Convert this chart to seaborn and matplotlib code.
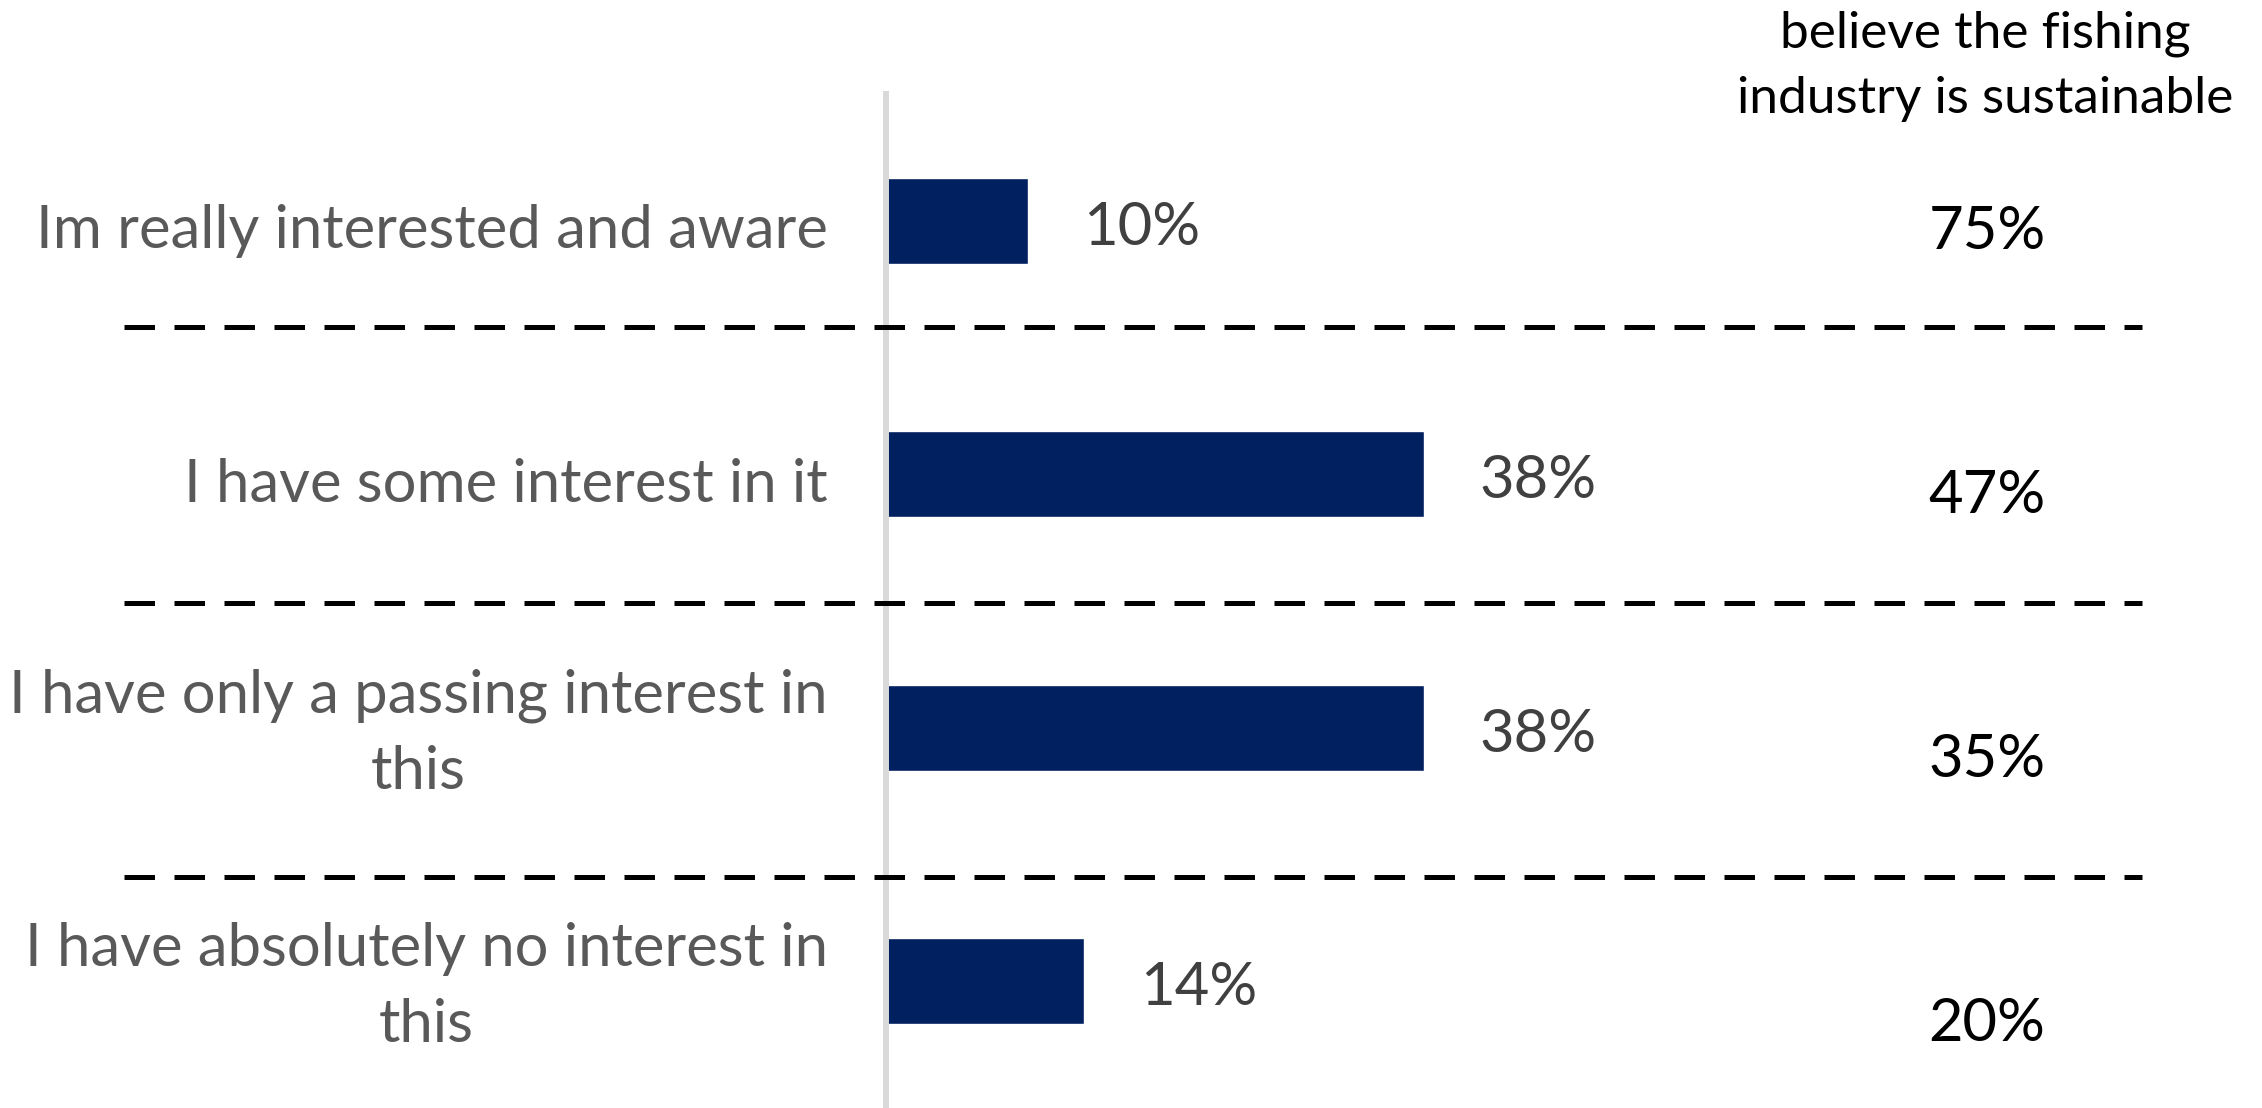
import matplotlib
matplotlib.use("Agg")
import matplotlib.pyplot as plt
from matplotlib.lines import Line2D
from matplotlib.transforms import blended_transform_factory, ScaledTranslation
import seaborn as sns
import pandas as pd

# Survey data
categories = [
    "Im really interested and aware",
    "I have some interest in it",
    "I have only a passing interest in\nthis",
    "I have absolutely no interest in\nthis",
]
interest_share = [10, 38, 38, 14]          # % of respondents
believe_sustainable = [75, 47, 35, 20]     # % who believe the industry is sustainable
column_title = "believe the fishing\nindustry is sustainable"

df = pd.DataFrame({"category": categories, "share": interest_share})

sns.set_theme(style="white")
plt.rcParams["font.family"] = ["Lato", "DejaVu Sans"]

W, H, DPI = 2262, 1108, 100
FS = 43
BAR_COLOR = "#002060"

fig = plt.figure(figsize=(W / DPI, H / DPI), dpi=DPI)
fig.patch.set_facecolor("white")

ax_left, ax_top = 886, 94
rect = [ax_left / W, 0, 1 - ax_left / W, (H - ax_top) / H]
ax = fig.add_axes(rect)

sns.barplot(data=df, x="share", y="category", orient="h", color=BAR_COLOR,
            width=0.34, saturation=1, ax=ax)

ax.set_xlim(0, (W - ax_left) / 14.15)
ax.set_ylim(3.5, -0.5)
ax.set_xlabel("")
ax.set_ylabel("")
ax.set_xticks([])

for side in ("top", "right", "bottom"):
    ax.spines[side].set_visible(False)
ax.spines["left"].set_color("#D9D9D9")
ax.spines["left"].set_linewidth(4.3)
ax.spines["left"].set_zorder(5)

# nudge text slightly down so glyphs sit optically centred on the bars
down = ScaledTranslation(0, -4 / 72, fig.dpi_scale_trans)

ax.tick_params(axis="y", length=0, pad=42, labelsize=FS, labelcolor="#595959")
for t in ax.get_yticklabels():
    t.set_multialignment("center")
    t.set_fontsize(FS)
    t.set_linespacing(1.5)
    if "\n" in t.get_text():
        t.set_verticalalignment("center")
    t.set_transform(t.get_transform() + down)

for cont in ax.containers:
    anns = ax.bar_label(cont, labels=[f"{v}%" for v in interest_share],
                        padding=40, fontsize=FS, color="#404040")
    for a in anns:
        a.xyann = (40, -5)

# Right-hand column of percentages on its own category scale
ax_r = fig.add_axes(rect)
ax_r.set_ylim(3.34, -0.5)
ax_r.axis("off")
trans = blended_transform_factory(fig.transFigure, ax_r.transData)
for i, v in enumerate(believe_sustainable):
    ax_r.text(1987 / W, i, f"{v}%", transform=trans + down, ha="center",
              va="center", fontsize=FS, color="black")

fig.text(1985 / W, 1 - 66 / H, column_title, ha="center", va="center",
         multialignment="center", fontsize=37, color="black", linespacing=1.5)

# Dashed separators between groups
for y_px in (327, 603, 877):
    fig.add_artist(Line2D([124 / W, 2142 / W], [1 - y_px / H] * 2,
                          transform=fig.transFigure, color="black", lw=3.6,
                          linestyle=(0, (6.1, 3.9)), dash_capstyle="butt"))

fig.savefig("out.png", dpi=DPI, facecolor="white")
